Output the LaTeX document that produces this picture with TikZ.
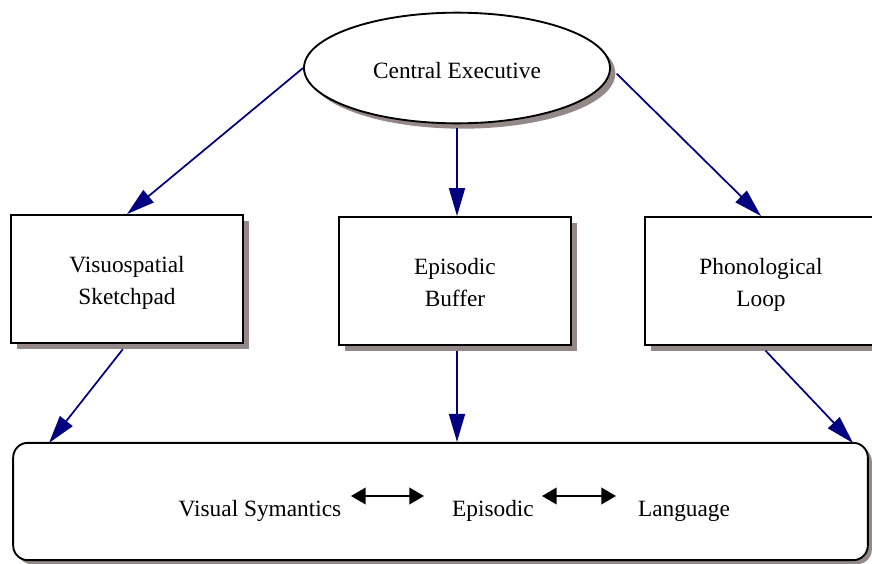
\documentclass[tikz,border=0pt]{standalone}
\usepackage{fontspec}
\setmainfont{Liberation Serif}
\usetikzlibrary{shapes.geometric,shadows,arrows.meta,calc}
\definecolor{shadowc}{RGB}{148,136,136}
\definecolor{navyc}{RGB}{0,0,128}
\newcommand{\twoline}[2]{\begin{tabular}{@{}c@{}}\rule{0pt}{22pt}#1\\#2\end{tabular}}
\begin{document}
\begin{tikzpicture}[x=0.75pt,y=-0.75pt,
  font=\fontsize{17.5}{24}\selectfont,
  box/.style={draw=black,line width=1.4pt,fill=white,minimum width=174pt,minimum height=96pt,align=center,inner sep=0pt,
    drop shadow={shadow xshift=4.5pt,shadow yshift=-4.5pt,fill=shadowc,opacity=1}},
  conn/.style={draw=navyc,line width=1.3pt,-{Triangle[length=21pt,width=12pt]},shorten >=0pt},
  dbl/.style={draw=black,line width=1.1pt,{Triangle[length=11pt,width=12.5pt]}-{Triangle[length=11pt,width=12.5pt]}}]
\useasboundingbox (0,0) rectangle (872,564);
\node[ellipse,draw=black,line width=1.4pt,fill=white,minimum width=229.5pt,minimum height=83pt,inner sep=0pt,
  text height=16pt,text depth=0pt,
  drop shadow={shadow xshift=4pt,shadow yshift=-4pt,fill=shadowc,opacity=1}] (ce) at (457,68) {Central Executive};
\node[box] (vs) at (127,279) {\twoline{Visuospatial}{Sketchpad}};
\node[box] (eb) at (455,281) {\twoline{Episodic}{Buffer}};
\node[box] (pl) at (761,281) {\twoline{Phonological}{Loop}};
\node[draw=black,line width=1.4pt,fill=white,rounded corners=11pt,minimum width=641pt,minimum height=88pt,inner sep=0pt,
  drop shadow={shadow xshift=3pt,shadow yshift=-3pt,fill=shadowc,opacity=1}] (wm) at (440.5,501.5) {};
\node (vsem) at (260,511) {Visual Symantics};
\node (epi) at (493,511) {Episodic};
\node (lang) at (684,511) {Language};
\coordinate (d1a) at (351,496);
\coordinate (d1b) at (424,496);
\coordinate (d2a) at (542,496);
\coordinate (d2b) at (616,496);
\draw[dbl] (d1a) -- (d1b);
\draw[dbl] (d2a) -- (d2b);
\coordinate (b1) at (49,443);
\coordinate (b3) at (853,443);
\draw[conn] (ce.west) -- (vs.north);
\draw[conn,shorten <=3pt] (ce.south) -- (ce.south |- eb.north);
\draw[conn,shorten <=6pt] (ce.east) -- (pl.north);
\draw[conn,shorten <=5pt] (vs.south) -- (b1);
\draw[conn,shorten <=5pt] (vs.south -| ce.south) -- (ce.south |- wm.north);
\draw[conn,shorten <=5pt] (pl.south) -- (b3);
\end{tikzpicture}
\end{document}
